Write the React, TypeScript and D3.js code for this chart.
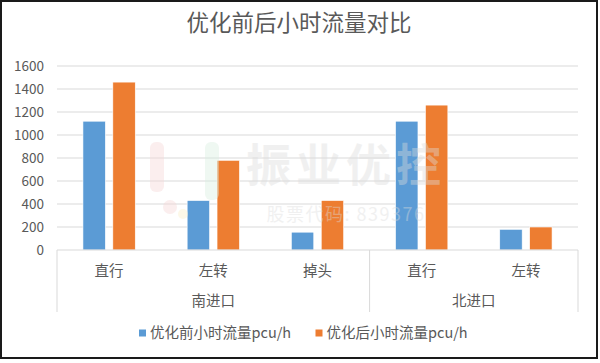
import React from 'react'
import * as d3 from 'd3'

const CATEGORIES = ['直行', '左转', '掉头', '直行', '左转']
const GROUPS = ['南进口', '南进口', '南进口', '北进口', '北进口']
const SERIES = ['优化前小时流量pcu/h', '优化后小时流量pcu/h']
const BEFORE = [1120, 430, 155, 1120, 180]
const AFTER = [1460, 780, 430, 1260, 200]
const Y_TICKS = [0, 200, 400, 600, 800, 1000, 1200, 1400, 1600]
const COLORS = ['#5B9BD5', '#ED7D31']

const W = 600
const H = 363
const FONT = '"Noto Sans CJK SC", "Noto Sans", sans-serif'
const TXT = '#595959'

const App = () => {
  const left = 57
  const right = 578
  const top = 66
  const bottom = 250

  const idx = CATEGORIES.map((_, i) => i)
  const x = d3.scaleBand<number>()
    .domain(idx)
    .range([left, right])
    .paddingInner(0.498)
    .paddingOuter(0.249)
  const xs = d3.scaleBand<number>()
    .domain([0, 1])
    .range([0, x.bandwidth()])
    .paddingInner(0.25)
  const y = d3.scaleLinear().domain([0, 1600]).range([bottom, top])
  const values = [BEFORE, AFTER]

  // group spans for second level of the category axis
  const groupNames = Array.from(new Set(GROUPS))
  const groupSpans = groupNames.map(g => {
    const ids = idx.filter(i => GROUPS[i] === g)
    const x0 = x(ids[0])! - x.step() * x.paddingInner() / 2
    const x1 = x(ids[ids.length - 1])! + x.bandwidth() + x.step() * x.paddingInner() / 2
    return { g, x0, x1 }
  })
  const sepLines = [left, ...groupSpans.map(s => s.x1)]

  return (
    <svg width={W} height={H} style={{ position: 'absolute', left: 0, top: 0 }}
      fontFamily={FONT}>
      <rect x={0} y={0} width={W} height={H} fill="#fff" />

      <text x={299} y={31} textAnchor="middle" fontSize={22.5} fill={TXT}>
        优化前后小时流量对比
      </text>

      {Y_TICKS.map(t => (
        <g key={t}>
          {t > 0 && (
            <line x1={left} x2={right} y1={y(t)} y2={y(t)} stroke="#d9d9d9" strokeWidth={1} />
          )}
          <text x={44} y={y(t)} dy="0.35em" textAnchor="end" fontSize={13.5} fill={TXT}>
            {t}
          </text>
        </g>
      ))}

      {values.map((vals, s) =>
        vals.map((v, i) => (
          <rect
            key={`${s}-${i}`}
            x={x(i)! + xs(s)!}
            y={y(v)}
            width={xs.bandwidth()}
            height={bottom - y(v)}
            fill={COLORS[s]}
            stroke="#fff"
            strokeWidth={0.6}
          />
        ))
      )}

      {/* watermark */}
      <g opacity={0.4}>
        <rect x={150} y={142} width={14} height={50} rx={6} fill="#f6d6d6" />
        <circle cx={170} cy={207} r={7} fill="#f6d6d6" />
        <circle cx={183} cy={214} r={5} fill="#fbf0c8" />
        <rect x={205} y={142} width={14} height={58} rx={6} fill="#d8efe0" />
        <text x={346} y={182} textAnchor="middle" fontSize={45} fontWeight="bold"
          letterSpacing={5} fill="#dcdcdc">
          振业优控
        </text>
        <text x={346} y={221} textAnchor="middle" fontSize={18} letterSpacing={1.5}
          fill="#dcdcdc">
          股票代码: 839376
        </text>
      </g>

      <line x1={left} x2={right} y1={bottom} y2={bottom} stroke="#d9d9d9" />
      {sepLines.map((sx, i) => (
        <line key={i} x1={sx} x2={sx} y1={bottom} y2={312} stroke="#d9d9d9" />
      ))}

      {CATEGORIES.map((c, i) => (
        <text key={i} x={x(i)! + x.bandwidth() / 2} y={271} dy="0.35em" textAnchor="middle"
          fontSize={14.5} fill={TXT}>
          {c}
        </text>
      ))}
      {groupSpans.map(s => (
        <text key={s.g} x={(s.x0 + s.x1) / 2} y={301} dy="0.35em" textAnchor="middle"
          fontSize={14.5} fill={TXT}>
          {s.g}
        </text>
      ))}

      {SERIES.map((name, s) => {
        const lx = s === 0 ? 139 : 315.5
        return (
          <g key={name} transform={`translate(${lx},333)`}>
            <rect x={0} y={-3.5} width={7} height={7} fill={COLORS[s]} />
            <text x={11} y={0} dy="0.35em" fontSize={14.5} fill={TXT}>{name}</text>
          </g>
        )
      })}

      <rect x={1} y={1} width={596} height={357} fill="none" stroke="#1a1a1a" strokeWidth={2} />
    </svg>
  )
}

export default App
